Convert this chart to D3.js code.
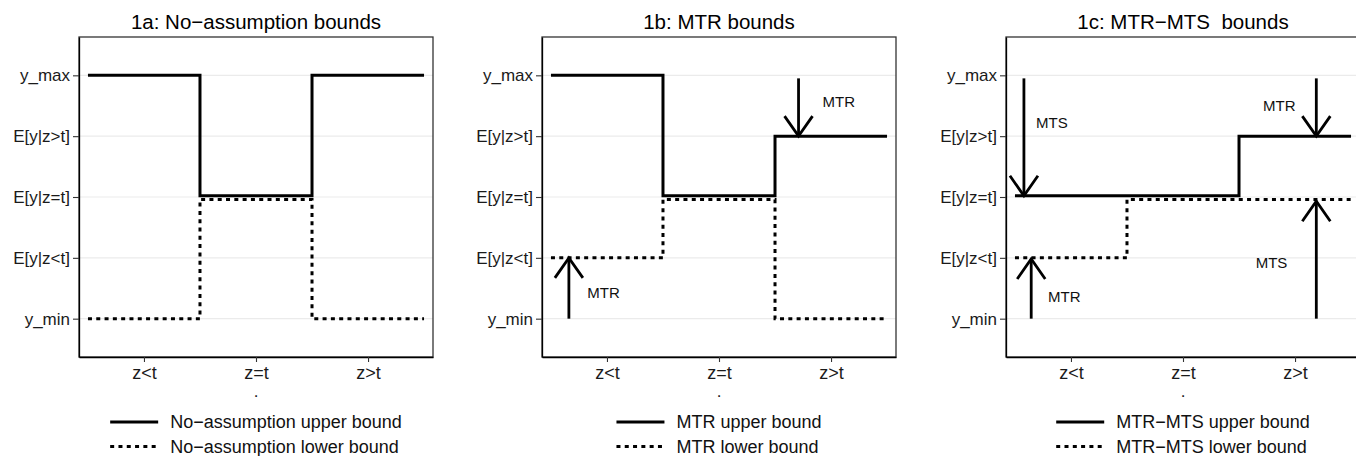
<!DOCTYPE html>
<html><head><meta charset="utf-8">
<script src="https://cdn.jsdelivr.net/npm/d3@7"></script>
<style>
html,body{margin:0;padding:0;background:#fff;}
text{font-family:"Liberation Sans",Arial,sans-serif;white-space:pre;}
</style></head>
<body><svg id="chart" width="1356" height="456"></svg>
<script>
// ---- data ----
const categories = ["z<t", "z=t", "z>t"];
const yTickValues = [1, 2, 3, 4, 5];
const yTickLabels = ["y_min", "E[y|z<t]", "E[y|z=t]", "E[y|z>t]", "y_max"];
const titles = ["1a: No\u2212assumption bounds", "1b: MTR bounds", "1c: MTR\u2212MTS  bounds"];
const legendUpper = ["No\u2212assumption upper bound", "MTR upper bound", "MTR\u2212MTS upper bound"];
const legendLower = ["No\u2212assumption lower bound", "MTR lower bound", "MTR\u2212MTS lower bound"];

const noAssumptionUpper = [5, 3.02, 5];
const noAssumptionLower = [1, 2.96, 1];
const mtrUpper = [5, 3.02, 4];
const mtrLower = [2, 2.96, 1];
const mtrMtsUpper = [3.02, 3.02, 4];
const mtrMtsLower = [2, 2.96, 2.96];

// arrows: x position, start value, tip value
const mtrArrows = [[2.71, 4.95, 4.0], [0.66, 1.0, 2.0]];
const mtrMtsArrows = [[0.58, 4.95, 3.02], [0.645, 1.0, 1.98], [3.19, 4.95, 4.0], [3.19, 1.0, 2.93]];
// annotation labels: x, y, text
const mtrNotes = [[3.07, 4.56, "MTR"], [0.97, 1.43, "MTR"]];
const mtrMtsNotes = [[0.83, 4.23, "MTS"], [0.94, 1.36, "MTR"], [2.86, 4.51, "MTR"], [2.79, 1.92, "MTS"]];

const panels = [
  {left: 79, upper: noAssumptionUpper, lower: noAssumptionLower, arrows: [], notes: []},
  {left: 542, upper: mtrUpper, lower: mtrLower, arrows: mtrArrows, notes: mtrNotes},
  {left: 1006, upper: mtrMtsUpper, lower: mtrMtsLower, arrows: mtrMtsArrows, notes: mtrMtsNotes}
];

const svg = d3.select("#chart");
const PW = 354, PT = 37, PB = 357;

panels.forEach((p, i) => {
  const x = d3.scaleLinear().domain([0.42, 3.58]).range([p.left, p.left + PW]);
  const y = d3.scaleLinear().domain([0.37, 5.63]).range([PB, PT]);
  const g = svg.append("g");

  // grid
  g.selectAll("line.grid").data(yTickValues).enter().append("line")
    .attr("x1", p.left).attr("x2", p.left + PW)
    .attr("y1", d => y(d)).attr("y2", d => y(d))
    .attr("stroke", "#ebebeb").attr("stroke-width", 1.1);

  // step series
  const stepPts = vals => vals.flatMap((v, k) => [[k + 0.5, v], [k + 1.5, v]]);
  const line = d3.line().x(d => x(d[0])).y(d => y(d[1]));
  g.append("path").attr("d", line(stepPts(p.lower)))
    .attr("fill", "none").attr("stroke", "#000").attr("stroke-width", 3)
    .attr("stroke-dasharray", "4,4.3");
  g.append("path").attr("d", line(stepPts(p.upper)))
    .attr("fill", "none").attr("stroke", "#000").attr("stroke-width", 3)
    .attr("stroke-linejoin", "miter");

  // arrows
  p.arrows.forEach(a => {
    const ax = x(a[0]), y0 = y(a[1]), y1 = y(a[2]);
    const dir = y1 > y0 ? -1 : 1;
    g.append("line").attr("x1", ax).attr("x2", ax).attr("y1", y0).attr("y2", y1)
      .attr("stroke", "#000").attr("stroke-width", 2.8);
    g.append("path")
      .attr("d", `M${ax - 14},${y1 + dir * 20}L${ax},${y1}L${ax + 14},${y1 + dir * 20}`)
      .attr("fill", "none").attr("stroke", "#000").attr("stroke-width", 2.8)
      .attr("stroke-linejoin", "miter");
  });
  p.notes.forEach(n => {
    g.append("text").attr("x", x(n[0])).attr("y", y(n[1])).attr("dy", "0.36em")
      .attr("text-anchor", "middle").attr("font-size", 15).attr("fill", "#111").text(n[2]);
  });

  // border
  g.append("rect").attr("x", p.left).attr("y", PT).attr("width", PW).attr("height", PB - PT)
    .attr("fill", "none").attr("stroke", "#333").attr("stroke-width", 1.3);

  // axes
  const yAxis = d3.axisLeft(y).tickValues(yTickValues).tickFormat((d, k) => yTickLabels[k])
    .tickSizeInner(6).tickSizeOuter(0).tickPadding(3);
  const ya = g.append("g").attr("transform", `translate(${p.left},0)`).call(yAxis);
  ya.select(".domain").attr("stroke", "#000").attr("stroke-width", 1.3);
  ya.selectAll(".tick line").attr("stroke", "#333").attr("stroke-width", 1.1);
  ya.selectAll(".tick text").attr("font-size", 17).attr("fill", "#1a1a1a")
    .attr("font-family", "Liberation Sans, Arial, sans-serif");

  const xAxis = d3.axisBottom(x).tickValues([1, 2, 3]).tickFormat((d, k) => categories[k])
    .tickSizeInner(5).tickSizeOuter(0).tickPadding(4);
  const xa = g.append("g").attr("transform", `translate(0,${PB})`).call(xAxis);
  xa.select(".domain").attr("stroke", "#000").attr("stroke-width", 1.3);
  xa.selectAll(".tick line").attr("stroke", "#333").attr("stroke-width", 1.1);
  xa.selectAll(".tick text").attr("font-size", 18).attr("fill", "#1a1a1a")
    .attr("font-family", "Liberation Sans, Arial, sans-serif");

  const cx = p.left + PW / 2;
  g.append("text").attr("x", cx).attr("y", 397).attr("text-anchor", "middle")
    .attr("font-size", 17).attr("fill", "#1a1a1a").text(".");
  g.append("text").attr("x", cx).attr("y", 29).attr("text-anchor", "middle")
    .attr("font-size", 20.5).attr("fill", "#000").text(titles[i]);

  // legend
  const lg = g.append("g");
  const rows = [[legendUpper[i], null], [legendLower[i], "4,4.3"]];
  let maxW = 0;
  rows.forEach((r, k) => {
    const yy = 422 + k * 24.5;
    const t = lg.append("text").attr("x", 60).attr("y", yy).attr("dy", "0.35em")
      .attr("font-size", 18).attr("fill", "#111").text(r[0]);
    maxW = Math.max(maxW, t.node().getComputedTextLength());
    const l = lg.append("line").attr("x1", 0).attr("x2", 48).attr("y1", yy).attr("y2", yy)
      .attr("stroke", "#000").attr("stroke-width", 3);
    if (r[1]) l.attr("stroke-dasharray", r[1]);
  });
  const totalW = 60 + maxW;
  lg.attr("transform", `translate(${cx - totalW / 2},0)`);
});
</script></body></html>
